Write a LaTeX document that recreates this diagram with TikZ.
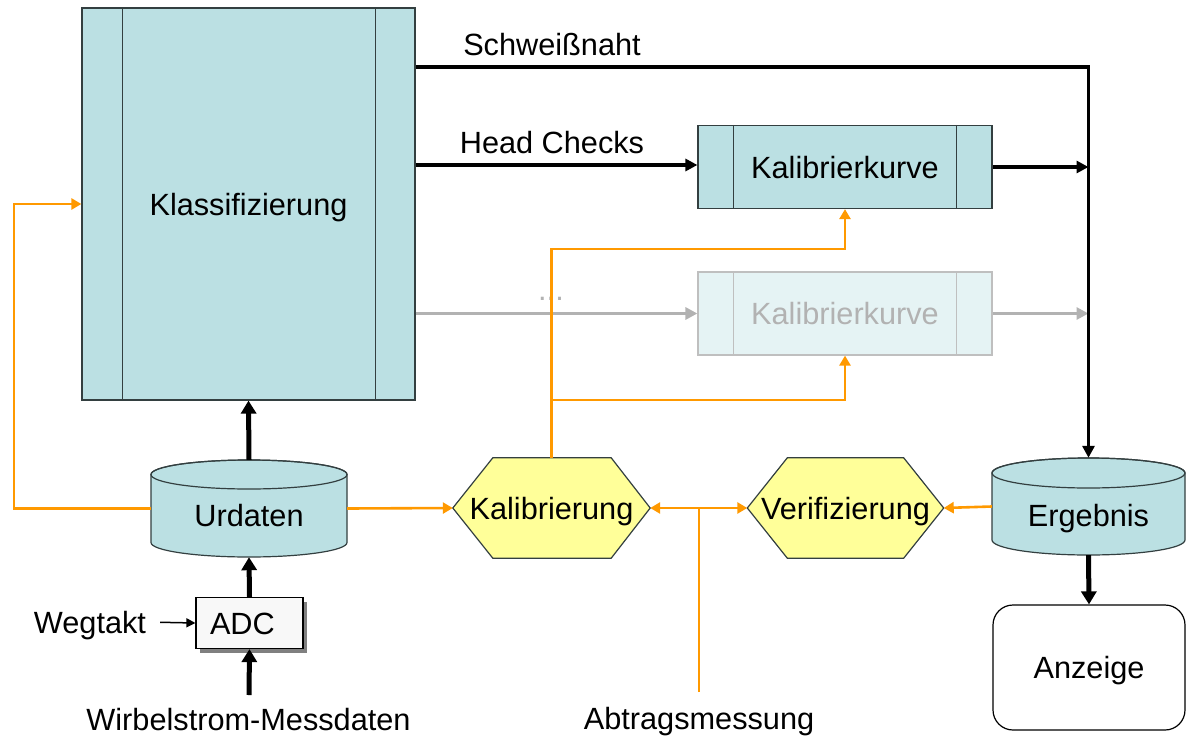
\documentclass[tikz,border=0pt]{standalone}
\usepackage{fontspec}
\setmainfont{Liberation Sans}
\usetikzlibrary{arrows.meta,calc,shadows}
\pgfdeclarelayer{bg}
\pgfsetlayers{bg,main}
\definecolor{cy}{HTML}{BBE0E3}
\definecolor{cyfade}{HTML}{E5F3F4}
\definecolor{boxline}{HTML}{333F40}
\definecolor{fadeline}{HTML}{BFBFBF}
\definecolor{fadetext}{HTML}{B2B2B2}
\definecolor{hexfill}{HTML}{FFFF99}
\definecolor{orng}{HTML}{FF9900}
\definecolor{adcfill}{HTML}{F8F8F8}
\begin{document}
\begin{tikzpicture}[x=1pt,y=-1pt,
  font=\fontsize{30.7}{36}\selectfont,
  every node/.style={inner sep=0pt, text height=22pt, text depth=0pt},
  clbox/.style={draw=boxline, fill=cy, line width=1.2pt},
  fadebox/.style={draw=fadeline, fill=cyfade, line width=1.2pt, text=fadetext},
  shapeline/.style={draw=boxline, line width=1.2pt},
  thk/.style={line width=5pt, -{Triangle[length=13pt,width=15pt]}},
  blk/.style={line width=3.3pt},
  blkarr/.style={blk, -{Triangle[length=12pt,width=12pt]}},
  gr/.style={line width=3.3pt, draw=fadetext, -{Triangle[length=12pt,width=12pt]}},
  or/.style={line width=2.6pt, draw=orng},
  orarr/.style={or, -{Triangle[length=10pt,width=11pt]}},
  thinarr/.style={line width=1.5pt, -{Triangle[length=9pt,width=9pt]}}
]
\useasboundingbox (0,0) rectangle (1186,736);

% ---------- nodes ----------
\node[clbox, minimum width=333pt, minimum height=392pt] (kl) at (248.5,204) {Klassifizierung};
\draw[boxline, line width=1.2pt] ([xshift=41pt]kl.north west) -- ([xshift=41pt]kl.south west);
\draw[boxline, line width=1.2pt] ([xshift=-40pt]kl.north east) -- ([xshift=-40pt]kl.south east);

\node[clbox, minimum width=294pt, minimum height=83pt] (kk1) at (845,167) {Kalibrierkurve};
\draw[boxline, line width=1.2pt] ([xshift=36pt]kk1.north west) -- ([xshift=36pt]kk1.south west);
\draw[boxline, line width=1.2pt] ([xshift=-36pt]kk1.north east) -- ([xshift=-36pt]kk1.south east);

\node[fadebox, minimum width=294pt, minimum height=83pt] (kk2) at (845,313.5) {Kalibrierkurve};
\draw[fadeline, line width=1.2pt] ([xshift=36pt]kk2.north west) -- ([xshift=36pt]kk2.south west);
\draw[fadeline, line width=1.2pt] ([xshift=-36pt]kk2.north east) -- ([xshift=-36pt]kk2.south east);

\node[minimum width=196pt, minimum height=97pt] (urd) at (249,508.5) {};
\node (urdtext) at (249,515) {Urdaten};
\node[minimum width=193pt, minimum height=97pt] (erg) at (1088.5,506.5) {};
\node (ergtext) at (1088.5,515) {Ergebnis};

\node[minimum width=197pt, minimum height=100pt] (kal) at (551.5,508) {Kalibrierung};
\node[minimum width=196pt, minimum height=100pt] (ver) at (845.5,508) {Verifizierung};

\node[draw, line width=1.2pt, rounded corners=20pt, minimum width=192pt, minimum height=125pt] (anz) at (1089,667.5) {Anzeige};

\node[draw=black, line width=1.2pt, fill=adcfill, text width=79pt, inner xsep=14pt, align=left,
      minimum height=51pt,
      drop shadow={shadow xshift=4pt, shadow yshift=-4pt, fill=black!50, opacity=1}] (adc) at (249.5,623) {ADC};

\node (weg) at (90,622) {Wegtakt};
\node (wir) at (248.5,719) {Wirbelstrom-Messdaten};
\node (abtt) at (699,718) {Abtragsmessung};
\node (schw) at (552,44) {Schweißnaht};
\node (head) at (552,142.5) {Head Checks};
\node[text=fadetext, anchor=base] (dots) at (551,300) {...};

\coordinate (wirc) at (249,695);
\coordinate (abt) at (699,692);

% ---------- shapes on background ----------
\begin{pgfonlayer}{bg}
  % Urdaten cylinder
  \path[shapeline, fill=cy] (151,474.5) -- (151,542.5)
     arc[start angle=180, end angle=0, x radius=98, y radius=14.5]
     -- (347,474.5)
     arc[start angle=0, end angle=-180, x radius=98, y radius=14.5] -- cycle;
  \draw[shapeline] (249,474.5) ellipse [x radius=98, y radius=14.5];
  % Ergebnis cylinder
  \path[shapeline, fill=cy] (992,473) -- (992,540)
     arc[start angle=180, end angle=0, x radius=96.5, y radius=15]
     -- (1185,473)
     arc[start angle=0, end angle=-180, x radius=96.5, y radius=15] -- cycle;
  \draw[shapeline] (1088.5,473) ellipse [x radius=96.5, y radius=15];
  % hexagons
  \path[shapeline, fill=hexfill] (kal.west) -- ([xshift=40pt]kal.north west) -- ([xshift=-39pt]kal.north east)
     -- (kal.east) -- ([xshift=-39pt]kal.south east) -- ([xshift=40pt]kal.south west) -- cycle;
  \path[shapeline, fill=hexfill] (ver.west) -- ([xshift=40pt]ver.north west) -- ([xshift=-40pt]ver.north east)
     -- (ver.east) -- ([xshift=-40pt]ver.south east) -- ([xshift=40pt]ver.south west) -- cycle;
\end{pgfonlayer}

% ---------- connectors ----------
\draw[gr] (kl.east |- kk2.west) -- (kk2.west);
\draw[gr] (kk2.east) -- (erg.north |- kk2.east);

\draw[blkarr] (kl.east |- 0,67) -- (erg.north |- 0,67) -- (erg.north);
\draw[blkarr] (kl.east |- 0,165) -- (kk1.west |- 0,165);
\draw[blkarr] (kk1.east) -- (erg.north |- kk1.east);

\draw[thk] (urd.north) -- (kl.south);
\draw[thk] (adc.north) -- (urd.south);
\draw[thk] (wirc) -- (adc.south);
\draw[thk] (erg.south) -- (anz.north);
\draw[thinarr, shorten <=14pt] (weg.east) -- (adc.west);

\draw[orarr] (urd.west) -- (urd.west -| 14,0) |- (kl.west);
\draw[orarr] (urd.east) -- (kal.west);
\draw[orarr] (kal.north) |- (kk1.south |- 0,249) -- (kk1.south);
\draw[orarr] (kal.north |- 0,400) -- (kk2.south |- 0,400) -- (kk2.south);
\draw[or] (abt) -- (abt |- kal.east) coordinate (j);
\draw[orarr] (j) -- (kal.east);
\draw[orarr] (j) -- (ver.west);
\draw[orarr] (erg.west) -- (ver.east);
\end{tikzpicture}
\end{document}
